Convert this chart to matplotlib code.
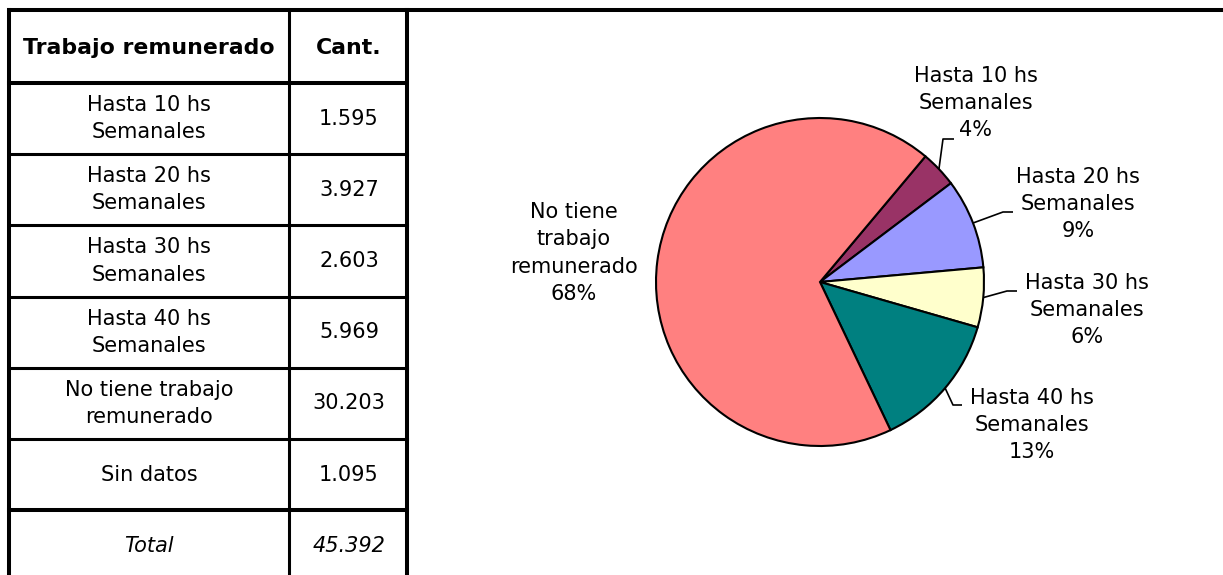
import numpy as np
import matplotlib
matplotlib.use("Agg")
import matplotlib.pyplot as plt

# table data
row_labels = ["Hasta 10 hs\nSemanales", "Hasta 20 hs\nSemanales",
              "Hasta 30 hs\nSemanales", "Hasta 40 hs\nSemanales",
              "No tiene trabajo\nremunerado", "Sin datos"]
row_values = [1595, 3927, 2603, 5969, 30203, 1095]
total_value = 45392

# pie data (Sin datos is left out of the pie)
pie_labels = ["Hasta 10 hs\nSemanales", "Hasta 20 hs\nSemanales",
              "Hasta 30 hs\nSemanales", "Hasta 40 hs\nSemanales",
              "No tiene\ntrabajo\nremunerado"]
pie_values = [1595, 3927, 2603, 5969, 30203]
pie_colors = ["#993366", "#9999FF", "#FFFFCC", "#008080", "#FF8080"]

W, H = 1223, 575
plt.rcParams["font.family"] = ["DejaVu Sans"]
FS = 15
LS = 1.45


def fmt_num(v):
    return f"{v:,}".replace(",", ".")


fig = plt.figure(figsize=(W / 100, H / 100), dpi=100)

# --- pie ---------------------------------------------------------------
cx, cy, r = 820, 282, 164
pa = fig.add_axes([(cx - r) / W, (H - cy - r) / H, 2 * r / W, 2 * r / H])
wedges, _ = pa.pie(pie_values, colors=pie_colors, startangle=50,
                   counterclock=False,
                   wedgeprops=dict(edgecolor="black", linewidth=1.5))
pa.set_xlim(-1, 1)
pa.set_ylim(-1, 1)
pa.set_aspect("equal")
pa.axis("off")

# --- overlay in pixel coords -----------------------------------------------
ov = fig.add_axes([0, 0, 1, 1])
ov.set_xlim(0, W)
ov.set_ylim(H, 0)
ov.axis("off")

tot_pie = sum(pie_values)
# label centres and leader-line bend / end points (pixels)
label_pos = [(976, 103), (1078, 204), (1087, 310), (1032, 425), (574, 253)]
leaders = [[(943, 139), (954, 139)],
           [(1003, 212), (1013, 212)],
           [(1007, 291), (1017, 291)],
           [(953, 405), (962, 405)],
           None]
for w, lab, v, (lx, ly), ld in zip(wedges, pie_labels, pie_values,
                                   label_pos, leaders):
    pct = round(v / tot_pie * 100)
    ov.text(lx, ly, f"{lab}\n{pct}%", ha="center", va="center",
            fontsize=FS, linespacing=LS)
    if ld is not None:
        mid = np.deg2rad((w.theta1 + w.theta2) / 2)
        ex, ey = cx + r * np.cos(mid), cy - r * np.sin(mid)
        xs = [ex] + [p[0] for p in ld]
        ys = [ey] + [p[1] for p in ld]
        ov.plot(xs, ys, color="black", lw=1.2, solid_capstyle="butt")

# --- table -----------------------------------------------------------------
x_left, x_mid, x_right = 9, 289, 407
y_top, y_head = 10, 83
row_h = 71.2
thick, thin = 2.9, 2.2

ov.plot([x_left - 2, W], [y_top, y_top], color="black", lw=thick,
        solid_capstyle="butt")
ov.plot([x_left, x_left], [y_top, H], color="black", lw=thick)
ov.plot([x_mid, x_mid], [y_top, H], color="black", lw=thin)
ov.plot([x_right, x_right], [y_top, H], color="black", lw=thick)
ov.plot([x_left, x_right], [y_head, y_head], color="black", lw=thick)

c1 = (x_left + x_mid) / 2
c2 = (x_mid + x_right) / 2 + 1
ov.text(c1, (y_top + y_head) / 2 + 1, "Trabajo remunerado", ha="center",
        va="center", fontsize=FS + 0.8, fontweight="bold")
ov.text(c2, (y_top + y_head) / 2 + 1, "Cant.", ha="center", va="center",
        fontsize=FS + 0.8, fontweight="bold")

for i, (lab, v) in enumerate(zip(row_labels, row_values)):
    y0 = y_head + i * row_h
    y1 = y0 + row_h
    ov.plot([x_left, x_right], [y1, y1], color="black",
            lw=thick if i == len(row_labels) - 1 else thin)
    ym = (y0 + y1) / 2
    ov.text(c1, ym, lab, ha="center", va="center", fontsize=FS,
            linespacing=LS)
    ov.text(c2, ym, fmt_num(v), ha="center", va="center", fontsize=FS)

yt = y_head + len(row_labels) * row_h + row_h / 2
ov.text(c1, yt, "Total", ha="center", va="center", fontsize=FS,
        fontstyle="italic")
ov.text(c2, yt, fmt_num(total_value), ha="center", va="center",
        fontsize=FS, fontstyle="italic")

fig.savefig("out.png", dpi=100)
